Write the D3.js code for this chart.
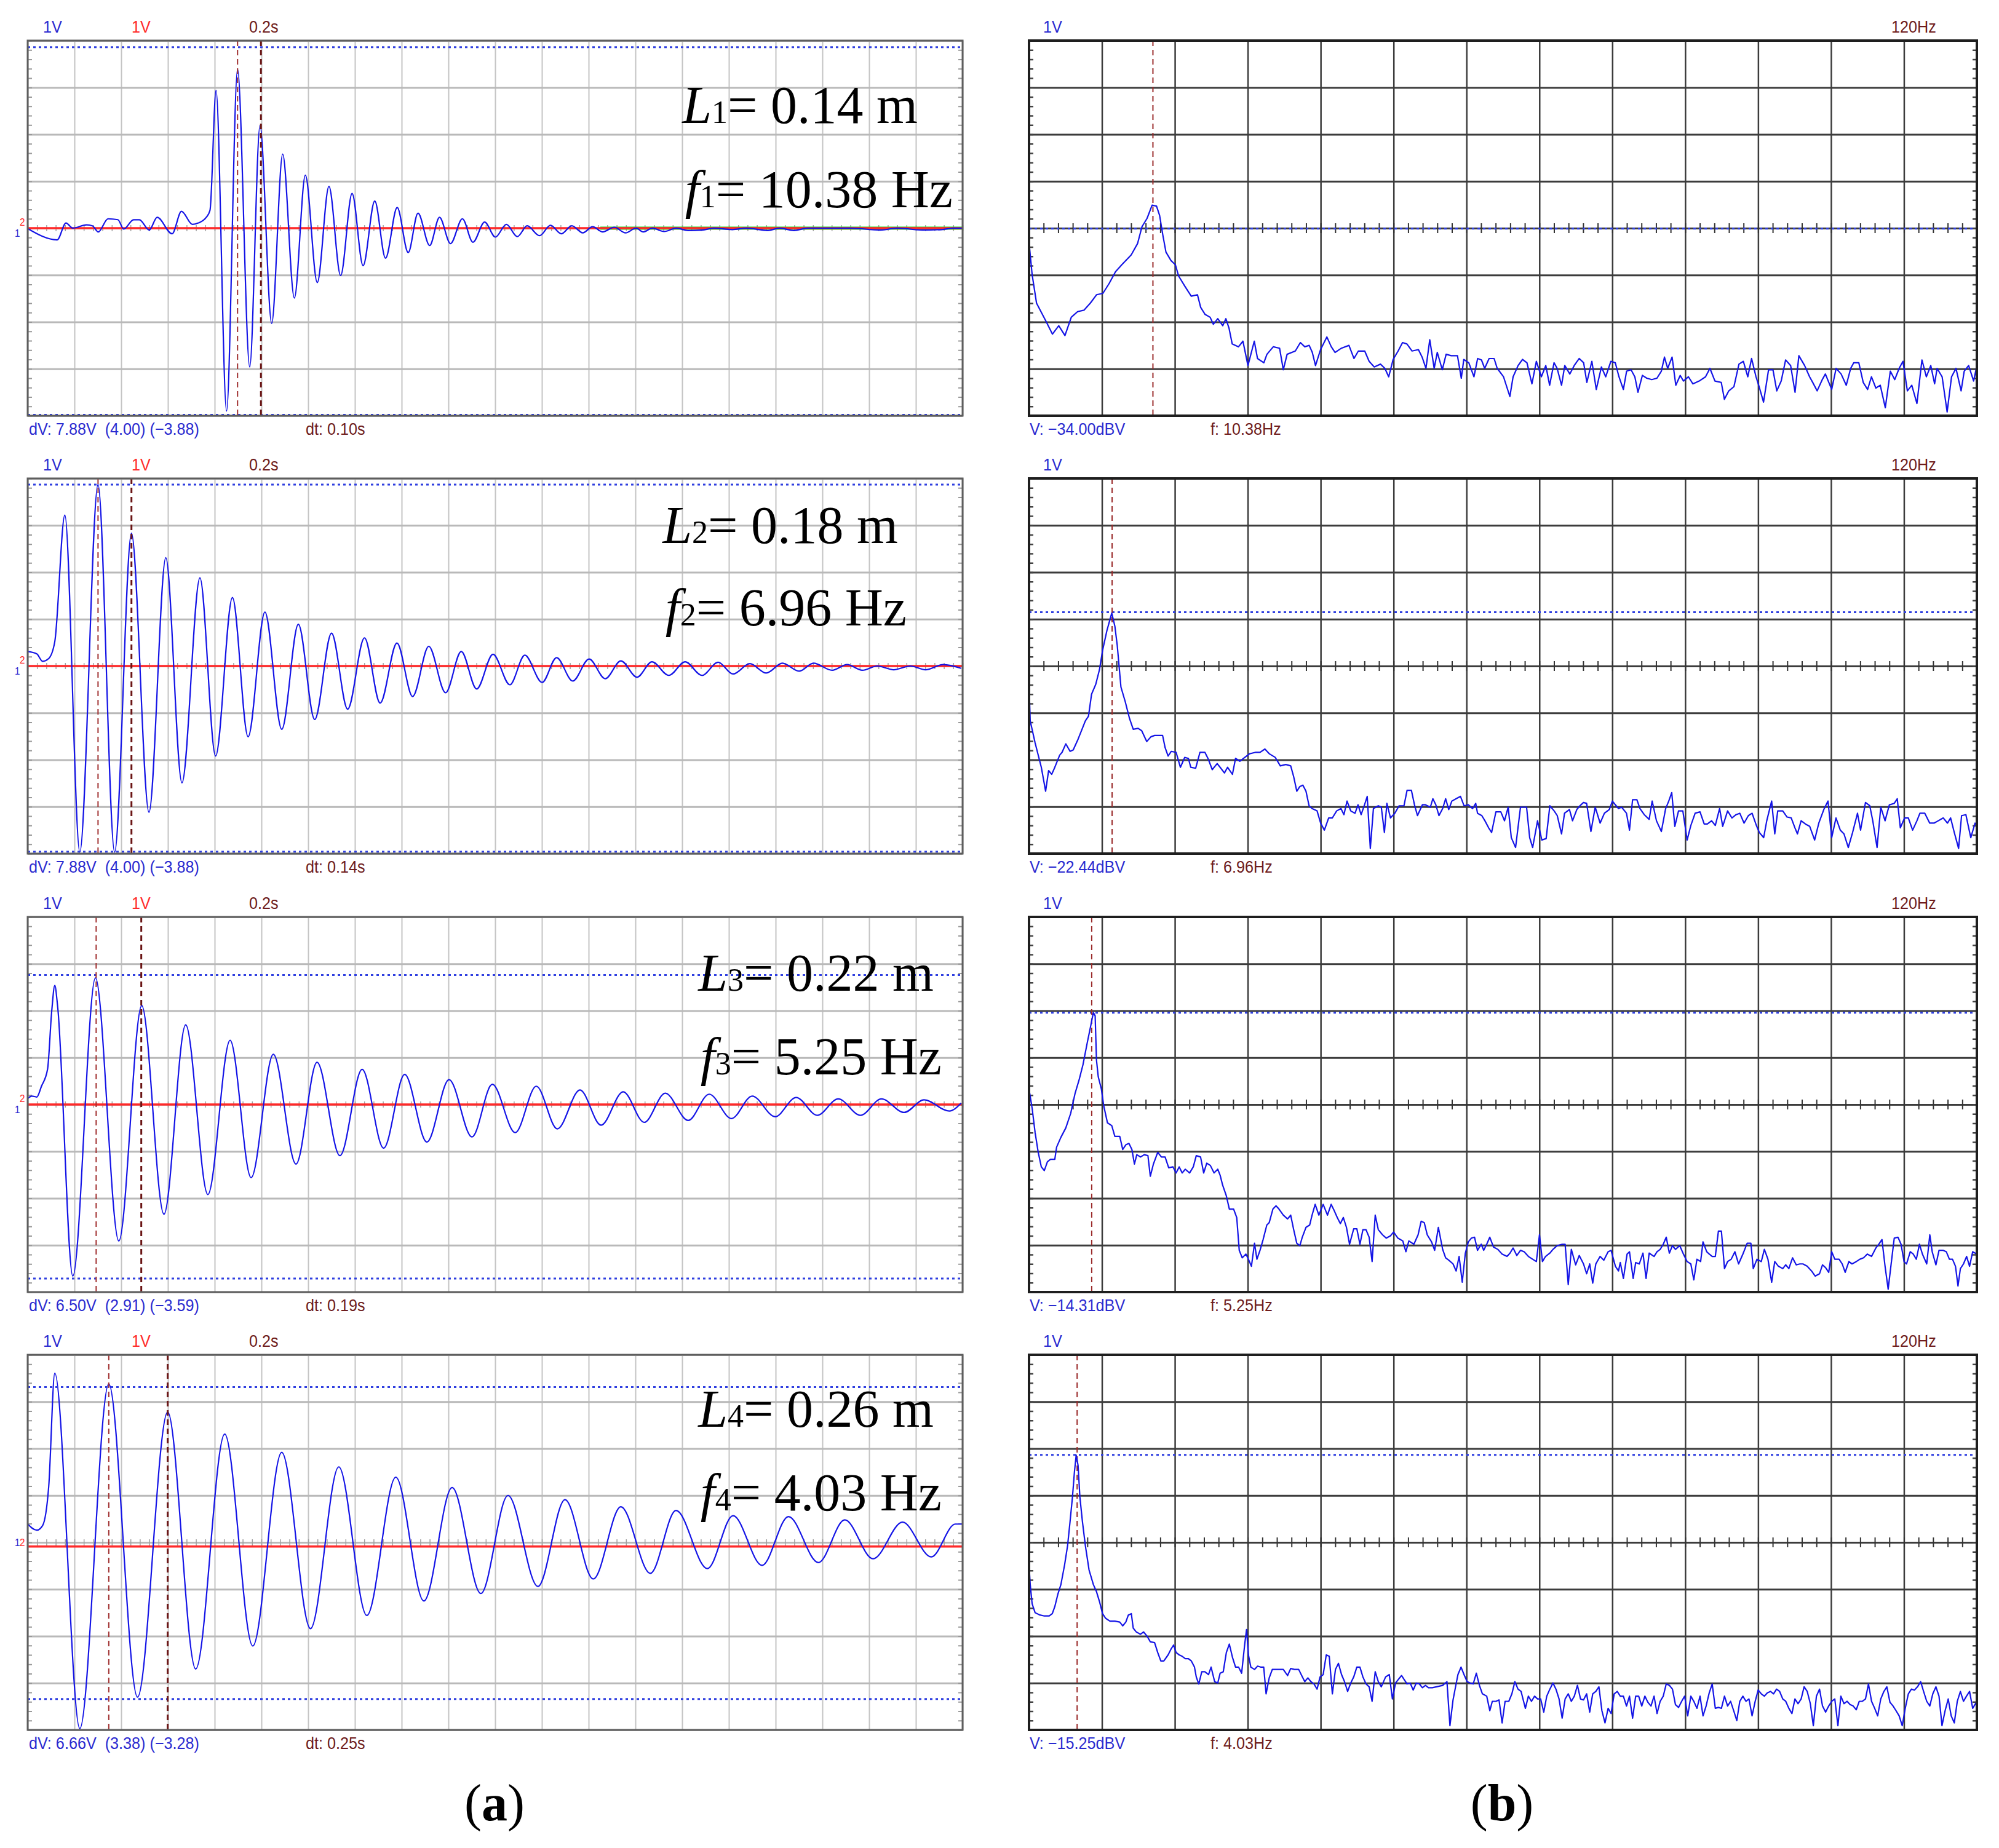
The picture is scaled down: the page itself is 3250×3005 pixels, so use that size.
<!DOCTYPE html>
<html>
<head>
<meta charset="utf-8">
<script src="https://cdn.jsdelivr.net/npm/d3@7"></script>
<style>
  body { margin: 0; background: #fff; }
  text { white-space: pre; }
</style>
</head>
<body>
<svg id="fig" width="3250" height="3005"></svg>
<script>
(function () {
  'use strict';

  var WAVE_1 = [[0,-0.01],[0.126,-0.25],[0.164,0.11],[0.193,0],[0.252,0.07],[0.277,0.05],[0.302,-0.08],[0.344,0.2],[0.386,0.18],[0.411,-0.02],[0.453,0.18],[0.478,0.18],[0.52,-0.04],[0.554,0.23],[0.618,-0.12],[0.658,0.36],[0.705,0.08],[0.73,0.11],[0.764,0.23],[0.78,0.38],[0.806,2.94],[0.851,-3.9],[0.898,3.39],[0.95,-2.96],[0.994,2.19],[1.044,-2.03],[1.091,1.58],[1.141,-1.49],[1.188,1.13],[1.239,-1.16],[1.289,0.89],[1.339,-1.01],[1.388,0.74],[1.435,-0.8],[1.485,0.58],[1.531,-0.64],[1.581,0.44],[1.628,-0.52],[1.67,0.32],[1.72,-0.37],[1.762,0.23],[1.809,-0.33],[1.86,0.2],[1.905,-0.3],[1.955,0.13],[2.001,-0.19],[2.048,0.08],[2.095,-0.18],[2.137,0.05],[2.19,-0.16],[2.237,0.06],[2.283,-0.12],[2.328,0.05],[2.375,-0.1],[2.417,0.03],[2.46,-0.08],[2.51,0.02],[2.558,-0.1],[2.603,0],[2.634,-0.08],[2.673,0],[2.723,-0.07],[2.775,0],[2.825,-0.05],[2.886,-0.04],[2.936,0],[3.015,-0.03],[3.075,0],[3.167,-0.05],[3.217,0],[3.278,-0.05],[3.338,0],[3.519,0],[3.649,-0.04],[3.72,0],[3.83,-0.04],[3.911,-0.03],[3.962,0],[4,0]];
  var WAVE_2 = [[0,0.31],[0.039,0.26],[0.064,0.1],[0.09,0.16],[0.116,0.52],[0.159,3.22],[0.223,-3.97],[0.301,3.87],[0.372,-3.97],[0.444,2.83],[0.519,-3.12],[0.591,2.31],[0.66,-2.49],[0.737,1.88],[0.804,-1.92],[0.876,1.46],[0.943,-1.51],[1.015,1.15],[1.087,-1.35],[1.158,0.89],[1.228,-1.14],[1.3,0.7],[1.369,-0.92],[1.441,0.6],[1.508,-0.79],[1.58,0.49],[1.647,-0.65],[1.716,0.42],[1.788,-0.57],[1.855,0.31],[1.921,-0.49],[1.991,0.25],[2.063,-0.4],[2.127,0.23],[2.201,-0.35],[2.263,0.18],[2.332,-0.32],[2.402,0.15],[2.471,-0.27],[2.538,0.11],[2.607,-0.24],[2.671,0.09],[2.743,-0.2],[2.813,0.09],[2.885,-0.2],[2.954,0.08],[3.018,-0.17],[3.09,0.05],[3.16,-0.15],[3.229,0.06],[3.301,-0.11],[3.362,0.06],[3.442,-0.09],[3.506,0.03],[3.571,-0.09],[3.635,0],[3.705,-0.08],[3.777,0],[3.841,-0.08],[3.917,0.03],[3.994,-0.05]];
  var WAVE_3 = [[0,0.13],[0.018,0.18],[0.039,0.16],[0.059,0.39],[0.085,0.75],[0.103,2],[0.116,2.54],[0.128,2.1],[0.193,-3.66],[0.29,2.7],[0.39,-2.91],[0.488,2.11],[0.583,-2.34],[0.676,1.7],[0.771,-1.92],[0.866,1.37],[0.956,-1.56],[1.051,1.07],[1.148,-1.27],[1.238,0.9],[1.336,-1.09],[1.431,0.75],[1.523,-0.93],[1.613,0.64],[1.708,-0.8],[1.803,0.53],[1.901,-0.69],[1.988,0.43],[2.086,-0.6],[2.176,0.39],[2.266,-0.52],[2.363,0.31],[2.453,-0.44],[2.548,0.27],[2.638,-0.38],[2.728,0.24],[2.826,-0.34],[2.916,0.22],[3.011,-0.3],[3.1,0.18],[3.198,-0.26],[3.288,0.15],[3.378,-0.23],[3.468,0.12],[3.563,-0.23],[3.653,0.12],[3.75,-0.17],[3.835,0.1],[3.943,-0.14],[3.994,0.03]];
  var WAVE_4 = [[0,0.39],[0.039,0.26],[0.064,0.36],[0.09,1.19],[0.116,3.61],[0.223,-3.97],[0.347,3.38],[0.47,-3.3],[0.599,2.78],[0.719,-2.7],[0.843,2.31],[0.963,-2.21],[1.087,1.92],[1.21,-1.84],[1.331,1.61],[1.451,-1.56],[1.575,1.39],[1.695,-1.25],[1.816,1.17],[1.939,-1.09],[2.055,1],[2.183,-0.94],[2.299,0.91],[2.42,-0.78],[2.538,0.76],[2.664,-0.66],[2.774,0.68],[2.908,-0.56],[3.018,0.57],[3.142,-0.49],[3.255,0.55],[3.383,-0.43],[3.496,0.48],[3.617,-0.35],[3.743,0.43],[3.866,-0.31],[3.969,0.39],[4,0.39]];

  // channel 2 (red) baseline level per row, volts
  var CH2_LEVEL = [0, 0, 0, -0.09];

  // ---- spectra, [frequency (Hz), dBV] ----
  var SPEC_1 = [[0,-36.9],[0.26,-43.8],[0.63,-49.9],[1.43,-53.8],[1.96,-56.5],[2.49,-54.7],[3.01,-56.8],[3.54,-52.9],[4.07,-51.7],[4.6,-51.4],[5.13,-49.9],[5.66,-48.1],[6.19,-47.8],[6.71,-45.7],[7.24,-43.2],[7.77,-41.7],[8.56,-39.6],[9.09,-37.2],[9.46,-33.6],[9.89,-31.8],[10.31,-29],[10.68,-29.2],[10.94,-31.2],[11.21,-35.4],[11.47,-39],[11.89,-40.8],[12.26,-41.7],[12.53,-44.1],[13.06,-46.3],[13.59,-48.4],[14.11,-48.1],[14.38,-50.8],[14.75,-52.3],[15.17,-52.9],[15.44,-54.4],[15.81,-53.2],[16.23,-54.7],[16.49,-53.2],[16.76,-55.3],[17.02,-58.6],[17.55,-59.2],[17.92,-58],[18.34,-63.2],[18.87,-58],[19.14,-61.7],[19.67,-62.6],[19.93,-60.8],[20.46,-59.2],[20.99,-59.5],[21.3,-64.1],[21.62,-60.8],[22.31,-60.1],[22.73,-58.3],[23.1,-59.2],[23.47,-58.9],[23.73,-60.4],[24,-63.2],[24.42,-59.8],[24.95,-57.1],[25.32,-59.2],[25.64,-60.4],[26.17,-59.5],[26.8,-58.9],[27.22,-61.7],[27.59,-60.1],[28.12,-60.1],[28.49,-62.3],[28.92,-63.5],[29.44,-62.9],[29.81,-63.8],[30.13,-65.6],[30.5,-61.9],[30.92,-60.1],[31.29,-58.3],[31.66,-58.6],[32.09,-60.1],[32.62,-59.8],[32.93,-61.4],[33.25,-63.8],[33.57,-57.7],[33.94,-63.8],[34.2,-60.4],[34.62,-64.1],[34.94,-60.8],[35.37,-61.1],[35.89,-61.1],[36.21,-65.9],[36.42,-61.9],[36.84,-62.6],[37.27,-65.6],[37.58,-61.7],[37.9,-62],[38.17,-63.8],[38.54,-61.7],[38.96,-61.7],[39.22,-63.8],[39.75,-65.6],[40.28,-69.8],[40.55,-65.6],[40.97,-63.2],[41.34,-61.9],[41.71,-62.6],[42.13,-67.1],[42.5,-62.3],[42.92,-65.6],[43.29,-63.2],[43.61,-67.4],[43.98,-62.6],[44.24,-63.8],[44.61,-67.4],[44.88,-63.2],[45.3,-65],[45.67,-63.2],[46.09,-61.7],[46.46,-62.6],[46.73,-66.8],[47.15,-62.3],[47.52,-68.3],[47.95,-63.5],[48.31,-65.6],[48.74,-62.3],[49.11,-62.6],[49.42,-65.6],[49.79,-68.3],[50.06,-64.4],[50.43,-64.1],[50.75,-65.6],[51.01,-68.9],[51.38,-65.3],[51.75,-65.9],[52.17,-66.2],[52.6,-65.9],[52.97,-64.4],[53.23,-61.4],[53.5,-63.8],[53.87,-61.4],[54.18,-67.4],[54.55,-65.3],[54.82,-66.5],[55.24,-65.6],[55.61,-67.1],[56.14,-66.5],[56.67,-65.6],[57.04,-63.8],[57.46,-66.5],[57.99,-66.8],[58.25,-70.4],[58.62,-68.6],[59.05,-67.7],[59.47,-62.9],[59.84,-62.3],[60.21,-65.6],[60.53,-61.7],[60.9,-65.6],[61.16,-67.7],[61.53,-71],[61.95,-64.1],[62.32,-64.1],[62.64,-68.6],[63.01,-66.5],[63.38,-62],[63.8,-63.2],[64.17,-68.9],[64.49,-61.1],[64.97,-63.2],[65.39,-65.6],[65.65,-66.8],[66.02,-68.6],[66.45,-66.2],[66.71,-65],[67.24,-68.3],[67.61,-63.8],[68.03,-65],[68.46,-67.4],[68.83,-63.8],[69.09,-62.6],[69.51,-62.6],[69.88,-66.8],[70.25,-68.3],[70.57,-65.6],[70.94,-68],[71.31,-67.4],[71.73,-72.2],[72.15,-64.4],[72.52,-66.2],[72.89,-63.8],[73.21,-62.3],[73.58,-68.6],[73.95,-67.4],[74.38,-71.3],[74.8,-62],[75.17,-65.6],[75.54,-63.2],[75.86,-67.1],[76.07,-63.8],[76.49,-65.6],[76.91,-73.1],[77.28,-65.6],[77.65,-63.8],[78.08,-68.6],[78.34,-64.4],[78.71,-63.2],[79.13,-66.5],[79.4,-63.2]];
  var SPEC_2 = [[0,-37.8],[0.1,-45.6],[0.51,-50.3],[1.03,-55.5],[1.39,-60.6],[1.64,-56.2],[1.9,-57],[2.16,-55.5],[2.57,-52.9],[2.77,-52.3],[3.08,-50.5],[3.44,-52.1],[3.7,-51.8],[4.11,-49.5],[4.47,-47.2],[4.72,-45.6],[4.98,-44.6],[5.24,-39.9],[5.59,-37.8],[5.9,-34.7],[6.16,-30.6],[6.52,-26.4],[6.93,-22.6],[7.19,-25.4],[7.39,-29.5],[7.7,-38.4],[8.06,-41.5],[8.42,-45.1],[8.73,-47.4],[9.14,-47.2],[9.44,-47.7],[9.86,-50],[10.21,-49],[10.52,-48.7],[11.19,-48.7],[11.4,-51.3],[11.65,-53.1],[11.91,-52.1],[12.32,-52.3],[12.68,-55.5],[13.04,-53.4],[13.35,-53.6],[13.55,-55.5],[13.96,-55.7],[14.32,-52.3],[14.73,-52.3],[14.99,-53.6],[15.35,-56],[15.76,-54.7],[16.01,-55.5],[16.37,-56.7],[16.63,-55.5],[17.04,-57],[17.3,-53.6],[17.66,-54.2],[18.07,-53.4],[18.48,-52.6],[18.99,-52.3],[19.35,-52.3],[19.76,-51.6],[20.12,-52.6],[20.63,-53.4],[21.05,-55.2],[21.51,-54.9],[21.92,-55.2],[22.17,-57.5],[22.43,-60.6],[22.69,-59.6],[22.94,-59.3],[23.2,-60.6],[23.46,-63.7],[23.71,-64.3],[24.13,-64.8],[24.43,-67.4],[24.74,-68.9],[25.1,-66.3],[25.41,-66.3],[25.77,-64.8],[26.13,-64.3],[26.38,-65.6],[26.64,-62.7],[26.95,-64.8],[27.31,-65.3],[27.56,-63.5],[27.82,-65.6],[28.08,-63.7],[28.33,-61.7],[28.59,-72.8],[28.85,-64.3],[29.26,-63.7],[29.51,-64],[29.77,-69.4],[29.98,-63.2],[30.28,-66.3],[30.64,-65.3],[31,-63.7],[31.41,-63.7],[31.67,-60.4],[32.03,-60.4],[32.29,-63.5],[32.54,-65.8],[32.95,-63.5],[33.21,-63.5],[33.62,-64],[33.83,-62.2],[34.08,-63.5],[34.34,-65.8],[34.65,-64.3],[34.9,-62.2],[35.16,-64.5],[35.42,-62.7],[35.78,-62.2],[36.14,-61.7],[36.44,-63.7],[36.8,-63.5],[37.16,-64.3],[37.42,-63.2],[37.57,-65.3],[37.93,-65.8],[38.19,-66.9],[38.5,-68.4],[38.75,-69.4],[39.11,-65],[39.52,-65],[39.83,-66.9],[40.14,-64],[40.4,-70.5],[40.76,-72.6],[41.17,-64],[41.68,-64],[41.94,-70.5],[42.19,-72.6],[42.6,-66.9],[42.96,-71],[43.32,-70.7],[43.63,-63.7],[43.99,-64.8],[44.25,-65.8],[44.61,-69.7],[44.86,-65.3],[45.27,-64.5],[45.53,-66.9],[45.89,-64.5],[46.15,-63.7],[46.45,-63],[46.71,-63.2],[47.07,-69.2],[47.43,-64],[47.84,-67.4],[48.2,-65.3],[48.61,-64.5],[48.87,-62.7],[49.12,-63.5],[49.38,-64.3],[49.64,-64],[50.05,-65.3],[50.3,-68.9],[50.56,-62.4],[50.92,-62.4],[51.18,-64.3],[51.54,-65.6],[51.95,-66.6],[52.2,-62.7],[52.56,-66.9],[52.97,-69.2],[53.33,-64.3],[53.59,-62.7],[53.84,-60.9],[54.1,-68.1],[54.41,-64.8],[54.77,-64.8],[55.13,-71],[55.44,-67.9],[55.8,-65.3],[56.21,-65],[56.56,-67.6],[56.82,-67.6],[57.18,-66.9],[57.49,-67.9],[57.85,-64.3],[58.11,-68.1],[58.52,-64.8],[58.88,-66.3],[59.23,-65.6],[59.54,-65.3],[59.9,-67.4],[60.26,-65.8],[60.57,-65.3],[60.93,-67.9],[61.18,-69.4],[61.54,-70.5],[61.8,-66.9],[62.21,-62.7],[62.47,-69.7],[62.72,-64.8],[63.14,-64.8],[63.5,-66.1],[63.85,-66.3],[64.16,-68.4],[64.37,-69.7],[64.68,-66.9],[65.04,-67.6],[65.4,-68.1],[65.81,-71],[66.16,-67.4],[66.58,-64.5],[66.93,-62.7],[67.24,-70.5],[67.6,-66.3],[67.96,-68.9],[68.27,-69.7],[68.63,-72.6],[68.99,-69.4],[69.4,-65.3],[69.66,-68.9],[70.07,-63],[70.43,-63.7],[70.68,-66.9],[71.04,-72.6],[71.35,-64],[71.71,-66.9],[72.07,-63.5],[72.48,-63.2],[72.73,-62.2],[72.99,-68.4],[73.35,-66.3],[73.66,-66.3],[74.02,-68.9],[74.38,-66.9],[74.63,-65.3],[75.04,-65.3],[75.45,-67.4],[75.81,-67.4],[76.17,-66.9],[76.58,-66.3],[76.94,-67.4],[77.2,-66.3],[77.51,-69.4],[77.87,-72.8],[78.12,-65.8],[78.48,-65.6],[78.89,-70.5],[79.25,-67.4],[79.4,-67.9]];
  var SPEC_3 = [[0,-30.6],[0.26,-34.7],[0.51,-39.9],[0.77,-44.1],[1.03,-47.2],[1.28,-48],[1.54,-46.1],[1.8,-45.6],[2.16,-45.6],[2.31,-43],[2.67,-40.9],[3.08,-38.9],[3.49,-35.8],[3.85,-31.6],[4.21,-28.5],[4.52,-25.4],[4.88,-20.7],[5.13,-17.6],[5.39,-14.3],[5.54,-15],[5.65,-24.4],[5.8,-28],[6.06,-30.6],[6.26,-34.2],[6.57,-37.8],[6.93,-38.4],[7.19,-40.7],[7.6,-40.7],[7.85,-43.5],[8.11,-42.5],[8.37,-42.2],[8.62,-43.5],[8.83,-46.6],[9.03,-44.6],[9.34,-45.1],[9.65,-44.6],[9.96,-44.8],[10.16,-49.2],[10.42,-46.6],[10.78,-44.1],[11.09,-45.1],[11.4,-45.1],[11.7,-47.4],[12.06,-47.2],[12.32,-48.5],[12.58,-47.2],[12.83,-48.5],[13.09,-47.7],[13.45,-48.5],[13.76,-47.2],[14.01,-44.8],[14.37,-45.1],[14.63,-48.5],[14.89,-46.4],[15.19,-46.9],[15.5,-48.5],[15.81,-47.7],[16.01,-49],[16.22,-51.1],[16.53,-53.4],[16.78,-56.2],[17.14,-56.2],[17.4,-58],[17.61,-65],[17.86,-66.6],[18.17,-65.8],[18.38,-66.9],[18.63,-68.4],[18.89,-63.5],[19.09,-66.9],[19.35,-65],[19.61,-62.7],[19.92,-59.6],[20.12,-59.1],[20.43,-56.2],[20.69,-55.5],[20.94,-56.2],[21.3,-57.5],[21.66,-58.3],[21.92,-57.5],[22.17,-60.6],[22.43,-63.5],[22.69,-64],[22.89,-62.2],[23.2,-60.1],[23.51,-59.6],[23.71,-57.5],[23.97,-55.2],[24.28,-57.5],[24.64,-55.2],[25,-57.5],[25.31,-55.2],[25.56,-56.5],[25.82,-58],[26.08,-59.3],[26.33,-58],[26.59,-60.1],[26.85,-63.7],[27.2,-60.4],[27.46,-60.4],[27.72,-63.7],[27.97,-60.6],[28.23,-60.6],[28.49,-62.2],[28.74,-67.4],[29,-57.5],[29.26,-60.6],[29.62,-61.7],[29.93,-62.4],[30.28,-61.9],[30.54,-61.1],[30.9,-62.4],[31.31,-63],[31.57,-65.3],[31.82,-63],[32.24,-63.7],[32.59,-61.7],[32.85,-58.8],[33.11,-59.1],[33.36,-61.7],[33.72,-63.2],[33.98,-65],[34.29,-60.1],[34.65,-64.8],[34.9,-66.6],[35.16,-67.1],[35.52,-67.9],[35.78,-69.4],[36.03,-66.3],[36.29,-71.8],[36.55,-65.6],[36.8,-63.2],[37.06,-62.4],[37.32,-62.2],[37.57,-65],[37.88,-63.7],[38.09,-65],[38.34,-63.7],[38.6,-62.2],[38.91,-64.3],[39.27,-64.8],[39.63,-65.8],[40.04,-66.3],[40.29,-65.6],[40.55,-64.5],[40.86,-66.1],[41.17,-65],[41.48,-65.3],[41.83,-66.3],[42.19,-66.9],[42.5,-67.4],[42.76,-61.7],[43.01,-67.4],[43.27,-66.3],[43.63,-65.6],[43.89,-64.8],[44.25,-64],[44.66,-63.7],[44.91,-63.7],[45.17,-72.3],[45.43,-64.8],[45.79,-68.1],[46.09,-66.1],[46.45,-67.9],[46.71,-70],[46.97,-67.9],[47.22,-72],[47.48,-67.9],[47.84,-66.3],[48.15,-67.1],[48.51,-65.3],[48.76,-65],[49.12,-68.4],[49.38,-69.4],[49.53,-67.6],[49.79,-71],[50.1,-65.8],[50.3,-65.3],[50.61,-71],[50.82,-67.6],[51.12,-67.9],[51.43,-65.6],[51.69,-71],[51.95,-65.6],[52.36,-66.3],[52.61,-65.3],[52.87,-64.8],[53.13,-63.7],[53.38,-62.2],[53.64,-65.6],[53.9,-64],[54.15,-64.8],[54.51,-64],[54.82,-65.8],[55.13,-67.4],[55.44,-67.9],[55.69,-71.3],[55.95,-66.9],[56.26,-67.4],[56.46,-63.2],[56.77,-65.3],[56.98,-65.8],[57.23,-66.3],[57.49,-66.3],[57.75,-60.9],[58,-60.9],[58.26,-68.9],[58.52,-67.4],[58.82,-66.9],[59.13,-65.3],[59.44,-67.9],[59.8,-65.8],[60.16,-63.5],[60.47,-63.5],[60.67,-68.9],[60.98,-66.9],[61.34,-67.4],[61.6,-64.8],[61.9,-66.9],[62.21,-71.8],[62.47,-67.4],[62.78,-68.4],[63.14,-68.9],[63.39,-68.1],[63.65,-68.9],[63.96,-66.6],[64.27,-68.1],[64.57,-67.9],[64.83,-67.9],[65.19,-68.4],[65.55,-69.4],[65.86,-70.5],[66.22,-70],[66.47,-68.1],[66.73,-68.7],[66.99,-69.7],[67.24,-65.3],[67.5,-66.9],[67.86,-66.9],[68.12,-67.9],[68.37,-69.7],[68.68,-67.4],[68.94,-67.9],[69.3,-67.4],[69.6,-66.9],[69.91,-66.6],[70.22,-65.8],[70.58,-66.3],[70.94,-64.5],[71.19,-63.7],[71.45,-62.7],[71.71,-68.4],[71.97,-73.3],[72.22,-67.9],[72.48,-62.4],[72.79,-62.2],[73.05,-63.7],[73.3,-67.4],[73.51,-67.9],[73.82,-65.3],[74.07,-65.8],[74.33,-66.9],[74.59,-63.7],[74.84,-65.8],[75.2,-67.9],[75.46,-61.7],[75.66,-65.3],[75.97,-68.1],[76.23,-65],[76.59,-65],[76.84,-65.3],[77.1,-66.9],[77.36,-66.9],[77.61,-68.4],[77.82,-72.6],[78.02,-68.9],[78.28,-67.9],[78.54,-66.3],[78.79,-68.4],[79.05,-65.3],[79.4,-65.8]];
  var SPEC_4 = [[0,-38.7],[0.1,-42.9],[0.26,-47],[0.51,-48.9],[0.92,-49.4],[1.28,-49.6],[1.69,-49.6],[1.95,-49.1],[2.16,-47.6],[2.41,-45],[2.67,-42.9],[2.98,-38.7],[3.23,-34.6],[3.44,-29.4],[3.64,-24.2],[3.8,-19],[3.95,-15.3],[4.11,-17.5],[4.26,-24.2],[4.47,-29.4],[4.72,-34.6],[5.03,-39.8],[5.39,-42.9],[5.65,-44.4],[5.9,-46.5],[6.16,-49.1],[6.42,-50.1],[6.78,-50.7],[7.19,-50.7],[7.6,-50.9],[7.85,-51.7],[8.11,-50.9],[8.32,-49.4],[8.57,-49.1],[8.73,-52.2],[8.98,-53],[9.34,-53.5],[9.6,-53],[9.91,-54],[10.16,-55.1],[10.52,-55.3],[10.78,-57.4],[11.04,-59.2],[11.29,-59.2],[11.65,-57.9],[11.91,-56.6],[12.11,-55.8],[12.32,-57.4],[12.58,-57.9],[12.83,-58.2],[13.09,-58.7],[13.35,-58.7],[13.6,-59.2],[13.86,-60.5],[14.01,-62.6],[14.22,-64.1],[14.47,-61.5],[14.73,-61.5],[15.04,-62.1],[15.25,-60.5],[15.55,-63.6],[15.81,-63.9],[16.01,-61.8],[16.27,-61.5],[16.53,-57.4],[16.78,-55.6],[17.04,-58.4],[17.3,-60.5],[17.55,-60.5],[17.81,-61.8],[18.07,-55.6],[18.22,-52.5],[18.38,-57.9],[18.58,-60.5],[18.89,-61],[19.15,-60.3],[19.4,-60.5],[19.66,-60.5],[19.86,-66.2],[20.12,-62.8],[20.38,-61],[20.79,-61],[21.3,-61],[21.66,-62.3],[21.92,-60.8],[22.23,-61],[22.59,-61],[22.84,-62.3],[23.1,-63.6],[23.36,-62.8],[23.61,-63.6],[23.87,-64.1],[24.13,-65.2],[24.38,-62.6],[24.64,-62.1],[24.9,-57.9],[25.15,-58.2],[25.41,-66.2],[25.67,-61],[25.92,-59.7],[26.18,-62.1],[26.43,-63.6],[26.69,-65.7],[26.95,-63.9],[27.2,-62.6],[27.46,-60.5],[27.72,-60.5],[27.97,-62.6],[28.23,-64.1],[28.49,-64.7],[28.74,-67.8],[29,-61.5],[29.26,-63.6],[29.51,-64.7],[29.87,-62.6],[30.18,-62.1],[30.44,-67.3],[30.7,-63.9],[30.95,-63.1],[31.21,-62.3],[31.41,-63.1],[31.67,-64.1],[31.93,-63.9],[32.18,-65.4],[32.44,-63.9],[32.7,-64.1],[32.95,-64.9],[33.21,-64.4],[33.47,-64.9],[33.78,-64.9],[34.13,-64.7],[34.65,-64.4],[35.01,-63.6],[35.26,-73],[35.52,-67.5],[35.73,-64.7],[35.93,-62.1],[36.19,-60.5],[36.44,-62.1],[36.7,-63.6],[36.96,-63.9],[37.21,-64.1],[37.47,-61.8],[37.73,-64.4],[37.98,-66.2],[38.34,-66.7],[38.6,-69.8],[38.81,-67.8],[39.11,-67.8],[39.37,-67.5],[39.63,-72.4],[39.88,-67.8],[40.19,-67.8],[40.45,-66.2],[40.7,-63.6],[40.96,-65.2],[41.22,-65.7],[41.58,-69.3],[41.83,-66.7],[42.09,-67.8],[42.35,-66.7],[42.6,-67.3],[42.86,-67.3],[43.12,-70.1],[43.37,-66.7],[43.63,-65.2],[43.89,-63.9],[44.14,-65.2],[44.4,-67.3],[44.66,-71.4],[44.91,-67.3],[45.17,-66.2],[45.43,-67.8],[45.68,-66.7],[45.94,-64.4],[46.2,-67.3],[46.45,-67.5],[46.71,-66.2],[46.97,-70.1],[47.22,-66.2],[47.48,-65.7],[47.74,-64.7],[47.99,-69.8],[48.25,-72.4],[48.51,-69.3],[48.76,-70.4],[49.02,-66.2],[49.28,-65.7],[49.53,-66.7],[49.79,-66.7],[50.05,-68.8],[50.3,-66.7],[50.56,-71.4],[50.82,-66.7],[51.07,-66.7],[51.33,-68.8],[51.59,-66.7],[51.84,-68],[52.1,-68.8],[52.36,-66.7],[52.61,-70.4],[52.87,-67.8],[53.13,-66.7],[53.38,-64.1],[53.64,-64.4],[53.9,-65.2],[54.15,-68.5],[54.41,-69.1],[54.67,-67.8],[54.92,-66.7],[55.18,-70.9],[55.44,-66.7],[55.69,-67.8],[55.95,-69.3],[56.21,-66.7],[56.46,-70.9],[56.72,-68.8],[56.98,-66],[57.23,-64.1],[57.49,-69.3],[57.75,-69.1],[58,-69.3],[58.26,-66.7],[58.52,-68.8],[58.77,-67.8],[59.03,-69.8],[59.29,-71.9],[59.54,-67.8],[59.8,-66.7],[60.06,-67.8],[60.31,-67.3],[60.57,-70.9],[60.83,-67.8],[61.08,-65.4],[61.34,-66.2],[61.6,-66.7],[61.85,-66],[62.11,-65.7],[62.37,-66.2],[62.62,-65.2],[62.88,-65.7],[63.14,-67.3],[63.39,-67.8],[63.65,-69.3],[63.91,-70.4],[64.16,-67.3],[64.42,-68.3],[64.68,-67.3],[64.93,-64.7],[65.19,-65.7],[65.45,-68.3],[65.7,-73],[65.96,-66.7],[66.22,-65.2],[66.47,-68.8],[66.73,-70.1],[66.99,-68.8],[67.24,-67.8],[67.5,-67.3],[67.76,-73],[68.01,-66.7],[68.27,-68.3],[68.53,-67.8],[68.78,-68.5],[69.04,-68.8],[69.3,-69.6],[69.55,-67.8],[69.81,-67.8],[70.07,-67.3],[70.32,-64.1],[70.58,-67.8],[70.84,-69.3],[71.09,-70.9],[71.35,-67.3],[71.61,-65.7],[71.86,-64.7],[72.12,-68],[72.38,-68.8],[72.63,-69.8],[72.89,-70.9],[73.15,-73],[73.4,-69.3],[73.66,-66.2],[73.92,-65.2],[74.17,-65.4],[74.43,-64.7],[74.69,-63.6],[74.94,-65.7],[75.2,-67.8],[75.46,-68.8],[75.71,-66.2],[75.97,-64.7],[76.23,-66.7],[76.48,-73],[76.74,-69.8],[77,-67.3],[77.25,-70.9],[77.51,-72.4],[77.76,-67.8],[78.02,-65.7],[78.28,-67.8],[78.53,-66.7],[78.79,-65.7],[79.05,-69.3],[79.4,-67.8]];

  // cursors
  var T_CURSORS = [[0.898, 0.998], [0.301, 0.444], [0.293, 0.486], [0.347, 0.599]];
  var V_CURSORS = [[3.86, -3.98], [3.87, -3.96], [2.76, -3.71], [3.31, -3.34]];
  var F_CURSORS = [10.38, 6.96, 5.25, 4.03];
  var DB_CURSORS = [-34.0, -22.44, -14.31, -15.25];

  // readouts / annotations
  var LENGTHS = ['0.14', '0.18', '0.22', '0.26'];
  var FREQS = ['10.38', '6.96', '5.25', '4.03'];
  var DV_TEXT = ['dV: 7.88V  (4.00) (\u22123.88)', 'dV: 7.88V  (4.00) (\u22123.88)', 'dV: 6.50V  (2.91) (\u22123.59)', 'dV: 6.66V  (3.38) (\u22123.28)'];
  var DT_TEXT = ['dt: 0.10s', 'dt: 0.14s', 'dt: 0.19s', 'dt: 0.25s'];
  var VDB_TEXT = ['V: \u221234.00dBV', 'V: \u221222.44dBV', 'V: \u221214.31dBV', 'V: \u221215.25dBV'];
  var FHZ_TEXT = ['f: 10.38Hz', 'f: 6.96Hz', 'f: 5.25Hz', 'f: 4.03Hz'];
  var PANEL_LETTERS = ['a', 'b'];

  // axis domains (one screen = 20 x 0.2 s, 8 x 1 V; 13 freq divisions, 8 x 10 dB)
  var TIME_DOMAIN = [0, 4];
  var VOLT_DOMAIN = [-4, 4];
  var FREQ_DOMAIN = [0, 79.4];
  var DB_DOMAIN = [-73.9, 6.1];

  var WAVES = [WAVE_1, WAVE_2, WAVE_3, WAVE_4];
  var SPECS = [SPEC_1, SPEC_2, SPEC_3, SPEC_4];

  // ---- layout ----
  var ROW_TOP = [66, 778, 1491, 2203];
  var PH = 610;
  var LX = 45, LW = 1520;
  var RX = 1673, RW = 1541;
  var ANNOT = [
    { lx: 1492, ly: 134, fx: 1549, fy: 271 },
    { lx: 1460, ly: 105, fx: 1474, fy: 239 },
    { lx: 1518, ly: 120, fx: 1531, fy: 256 },
    { lx: 1518, ly: 117, fx: 1531, fy: 253 }
  ];

  var BLUE = '#1414e6';
  var LABEL_BLUE = '#2a2ad0';
  var DARK_RED = '#6e1c1c';
  var RED = '#ff2a2a';

  var svg = d3.select('#fig');
  svg.append('rect').attr('width', 3250).attr('height', 3005).attr('fill', '#fff');
  var defs = svg.append('defs');

  var xT = d3.scaleLinear().domain(TIME_DOMAIN).range([0, LW]);
  var yV = d3.scaleLinear().domain(VOLT_DOMAIN).range([PH, 0]);
  var xF = d3.scaleLinear().domain(FREQ_DOMAIN).range([0, RW]);
  var yD = d3.scaleLinear().domain(DB_DOMAIN).range([PH, 0]);

  function steps(a, b, n) {
    return d3.range(n + 1).map(function (i) { return a + (b - a) * i / n; });
  }

  function cleanAxis(a, color, width) {
    a.select('.domain').remove();
    a.selectAll('text').remove();
    a.selectAll('line').attr('stroke', color).attr('stroke-width', width);
  }

  function scopeText(sel, x, y, str, color) {
    return sel.append('text')
      .attr('transform', 'translate(' + x + ',' + y + ') scale(0.9,1)')
      .attr('font-family', '"Liberation Sans", Arial, sans-serif')
      .attr('font-size', 28)
      .attr('fill', color)
      .text(str);
  }

  function drawTimePanel(i) {
    var top = ROW_TOP[i];
    var g = svg.append('g').attr('transform', 'translate(' + LX + ',' + top + ')');
    var clipId = 'clipL' + i;
    defs.append('clipPath').attr('id', clipId).append('rect').attr('width', LW).attr('height', PH);

    // grid
    g.append('g').call(d3.axisBottom(xT).tickValues(steps(0, 4, 20)).tickSize(PH))
      .call(function (a) { cleanAxis(a, '#c4c4c4', 2); });
    g.append('g').call(d3.axisRight(yV).tickValues(steps(-4, 4, 8)).tickSize(LW))
      .call(function (a) { cleanAxis(a, '#b9b9b9', 3); });
    // minor ticks on borders and centre line
    g.append('g').call(d3.axisRight(yV).tickValues(steps(-4, 4, 40)).tickSize(7))
      .call(function (a) { cleanAxis(a, '#9a9a9a', 2); });
    g.append('g').attr('transform', 'translate(' + LW + ',0)')
      .call(d3.axisLeft(yV).tickValues(steps(-4, 4, 40)).tickSize(7))
      .call(function (a) { cleanAxis(a, '#9a9a9a', 2); });
    g.append('g').attr('transform', 'translate(0,' + yV(0) + ')')
      .call(d3.axisBottom(xT).tickValues(steps(0, 4, 100)).tickSize(5))
      .call(function (a) { cleanAxis(a, '#a0a0a0', 1.5); });
    g.append('g').attr('transform', 'translate(0,' + yV(0) + ')')
      .call(d3.axisTop(xT).tickValues(steps(0, 4, 100)).tickSize(5))
      .call(function (a) { cleanAxis(a, '#a0a0a0', 1.5); });

    var plot = g.append('g').attr('clip-path', 'url(#' + clipId + ')');

    // channel 2 flat trace
    var flat = d3.line().x(function (d) { return xT(d[0]); }).y(function (d) { return yV(d[1]); });
    var lvl = CH2_LEVEL[i];
    if (i === 0) {
      plot.append('path').attr('d', flat([[2.45, lvl], [4, lvl]]))
        .attr('stroke', '#16d616').attr('stroke-width', 5).attr('fill', 'none');
    }
    plot.append('path').attr('d', flat([[0, lvl], [4, lvl]]))
      .attr('stroke', RED).attr('stroke-width', 3.5).attr('fill', 'none');

    // channel 1 trace
    var line = d3.line().x(function (d) { return xT(d[0]); }).y(function (d) { return yV(d[1]); })
      .curve(d3.curveMonotoneX);
    plot.append('path').datum(WAVES[i]).attr('d', line)
      .attr('stroke', BLUE).attr('stroke-width', 2.2).attr('fill', 'none');

    // cursors
    plot.selectAll('line.vc').data(V_CURSORS[i]).enter().append('line')
      .attr('x1', 0).attr('x2', LW)
      .attr('y1', function (d) { return yV(d); }).attr('y2', function (d) { return yV(d); })
      .attr('stroke', '#2f3fe0').attr('stroke-width', 3).attr('stroke-dasharray', '4,5');
    plot.selectAll('line.tc').data(T_CURSORS[i]).enter().append('line')
      .attr('y1', 0).attr('y2', PH)
      .attr('x1', function (d) { return xT(d); }).attr('x2', function (d) { return xT(d); })
      .attr('stroke', function (d, k) { return k === 0 ? '#a03030' : '#6a1515'; })
      .attr('stroke-width', function (d, k) { return k === 0 ? 2 : 3; })
      .attr('stroke-dasharray', '9,6');

    g.append('rect').attr('width', LW).attr('height', PH)
      .attr('fill', 'none').attr('stroke', '#5e5e5e').attr('stroke-width', 3);

    // channel markers
    var y0 = top + yV(0);
    if (i === 3) {
      scopeText(svg, 24, y0 + 6, '1', LABEL_BLUE).attr('font-size', 17);
      scopeText(svg, 32, y0 + 6, '2', RED).attr('font-size', 17);
    } else {
      scopeText(svg, 32, y0 - 4, '2', RED).attr('font-size', 17);
      scopeText(svg, 24, y0 + 14, '1', LABEL_BLUE).attr('font-size', 17);
    }

    // readouts
    scopeText(svg, 70, top - 13, '1V', LABEL_BLUE);
    scopeText(svg, 214, top - 13, '1V', RED);
    scopeText(svg, 405, top - 13, '0.2s', DARK_RED);
    scopeText(svg, 47, top + PH + 31, DV_TEXT[i], LABEL_BLUE);
    scopeText(svg, 497, top + PH + 31, DT_TEXT[i], DARK_RED);

    // annotation
    var a = ANNOT[i];
    var serif = '"Liberation Serif", "Times New Roman", serif';
    var t1 = svg.append('text').attr('x', a.lx).attr('y', top + a.ly)
      .attr('text-anchor', 'end').attr('font-family', serif).attr('font-size', 86).attr('fill', '#000');
    t1.append('tspan').attr('font-style', 'italic').text('L');
    t1.append('tspan').attr('font-size', 52).text(String(i + 1));
    t1.append('tspan').text('= ' + LENGTHS[i] + ' m');
    var t2 = svg.append('text').attr('x', a.fx).attr('y', top + a.fy)
      .attr('text-anchor', 'end').attr('font-family', serif).attr('font-size', 86).attr('fill', '#000');
    t2.append('tspan').attr('font-style', 'italic').text('f');
    t2.append('tspan').attr('font-size', 52).text(String(i + 1));
    t2.append('tspan').text('= ' + FREQS[i] + ' Hz');
  }

  function drawSpecPanel(i) {
    var top = ROW_TOP[i];
    var g = svg.append('g').attr('transform', 'translate(' + RX + ',' + top + ')');
    var clipId = 'clipR' + i;
    defs.append('clipPath').attr('id', clipId).append('rect').attr('width', RW).attr('height', PH);

    g.append('g').call(d3.axisBottom(xF).tickValues(steps(FREQ_DOMAIN[0], FREQ_DOMAIN[1], 13)).tickSize(PH))
      .call(function (a) { cleanAxis(a, '#3c3c3c', 2.5); });
    g.append('g').call(d3.axisRight(yD).tickValues(steps(DB_DOMAIN[0], DB_DOMAIN[1], 8)).tickSize(RW))
      .call(function (a) { cleanAxis(a, '#3c3c3c', 3); });
    g.append('g').call(d3.axisRight(yD).tickValues(steps(DB_DOMAIN[0], DB_DOMAIN[1], 40)).tickSize(7))
      .call(function (a) { cleanAxis(a, '#444', 2.5); });
    g.append('g').attr('transform', 'translate(' + RW + ',0)')
      .call(d3.axisLeft(yD).tickValues(steps(DB_DOMAIN[0], DB_DOMAIN[1], 40)).tickSize(7))
      .call(function (a) { cleanAxis(a, '#444', 2.5); });
    var mid = (DB_DOMAIN[0] + DB_DOMAIN[1]) / 2;
    g.append('g').attr('transform', 'translate(0,' + yD(mid) + ')')
      .call(d3.axisBottom(xF).tickValues(steps(FREQ_DOMAIN[0], FREQ_DOMAIN[1], 65)).tickSize(8))
      .call(function (a) { cleanAxis(a, '#333', 2); });
    g.append('g').attr('transform', 'translate(0,' + yD(mid) + ')')
      .call(d3.axisTop(xF).tickValues(steps(FREQ_DOMAIN[0], FREQ_DOMAIN[1], 65)).tickSize(8))
      .call(function (a) { cleanAxis(a, '#333', 2); });

    var plot = g.append('g').attr('clip-path', 'url(#' + clipId + ')');

    plot.append('line')
      .attr('x1', 0).attr('x2', RW)
      .attr('y1', yD(DB_CURSORS[i])).attr('y2', yD(DB_CURSORS[i]))
      .attr('stroke', '#2f3fe0').attr('stroke-width', 3).attr('stroke-dasharray', '4,5');
    plot.append('line')
      .attr('y1', 0).attr('y2', PH)
      .attr('x1', xF(F_CURSORS[i])).attr('x2', xF(F_CURSORS[i]))
      .attr('stroke', '#9a2a2a').attr('stroke-width', 2).attr('stroke-dasharray', '9,6');

    var line = d3.line().x(function (d) { return xF(d[0]); }).y(function (d) { return yD(d[1]); });
    plot.append('path').datum(SPECS[i]).attr('d', line)
      .attr('stroke', BLUE).attr('stroke-width', 2.2).attr('fill', 'none')
      .attr('stroke-linejoin', 'round');

    g.append('rect').attr('width', RW).attr('height', PH)
      .attr('fill', 'none').attr('stroke', '#1e1e1e').attr('stroke-width', 4);

    scopeText(svg, 1696, top - 13, '1V', LABEL_BLUE);
    scopeText(svg, 3075, top - 13, '120Hz', DARK_RED);
    scopeText(svg, 1674, top + PH + 31, VDB_TEXT[i], LABEL_BLUE);
    scopeText(svg, 1968, top + PH + 31, FHZ_TEXT[i], DARK_RED);
  }

  for (var r = 0; r < 4; r++) {
    drawTimePanel(r);
    drawSpecPanel(r);
  }

  // sub-figure letters
  [804, 2442].forEach(function (cx, k) {
    var t = svg.append('text').attr('x', cx).attr('y', 2960).attr('text-anchor', 'middle')
      .attr('font-family', '"Liberation Serif", "Times New Roman", serif').attr('font-size', 84).attr('fill', '#000');
    t.append('tspan').text('(');
    t.append('tspan').attr('font-weight', 'bold').text(PANEL_LETTERS[k]);
    t.append('tspan').text(')');
  });
})();
</script>
</body>
</html>
